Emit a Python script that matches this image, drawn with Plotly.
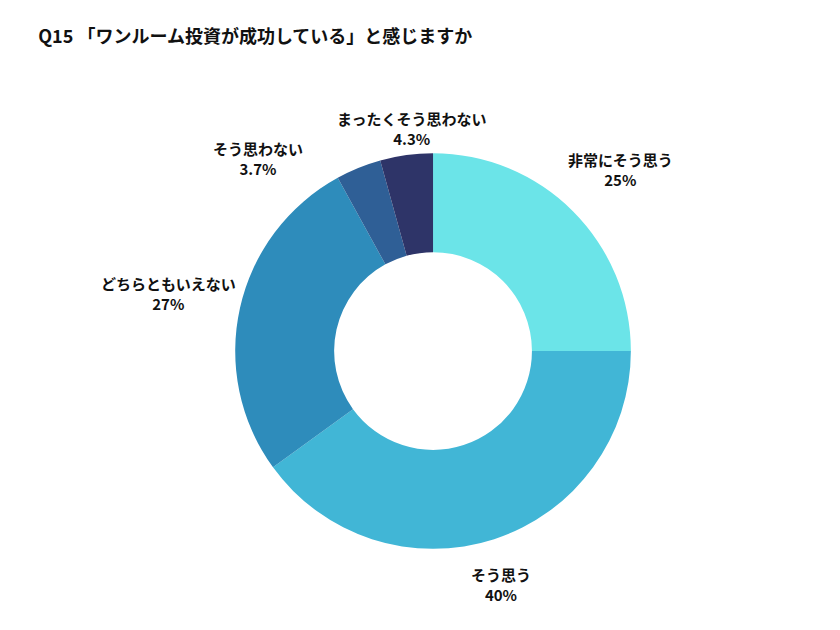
import plotly.graph_objects as go

labels = ["非常にそう思う", "そう思う", "どちらともいえない", "そう思わない", "まったくそう思わない"]
values = [25, 40, 27, 3.7, 4.3]
pct_text = ["25%", "40%", "27%", "3.7%", "4.3%"]
colors = ["#6BE4E8", "#41B6D6", "#2E8CBB", "#2F5F96", "#2E3468"]
# label centres in pixels (layout only)
label_pos = [(612, 162), (493, 576), (160, 286), (250, 150), (403, 121)]

font = "Noto Sans CJK JP"

fig = go.Figure(go.Pie(
    labels=labels, values=values, hole=0.5, sort=False, direction="clockwise",
    rotation=0, marker=dict(colors=colors), textinfo="none",
    hoverinfo="label+percent",
    domain=dict(x=[0.2705, 0.7415], y=[0.141, 0.770]),
    showlegend=False,
))

for l, p, (px_, py_) in zip(labels, pct_text, label_pos):
    fig.add_annotation(
        text=f"<b>{l}<br>{p}</b>", x=px_ / 840, y=1 - py_ / 630,
        xref="paper", yref="paper", showarrow=False,
        xanchor="center", yanchor="middle", align="center",
        font=dict(family=font, size=15, color="#111111"),
    )

fig.update_layout(
    width=840, height=630,
    margin=dict(l=0, r=0, t=0, b=0),
    paper_bgcolor="white",
    title=dict(text="<b>Q15 「ワンルーム投資が成功している」と感じますか</b>",
               x=0.036, y=0.955, xanchor="left", yanchor="middle",
               font=dict(family=font, size=18, color="#111111")),
)

fig.write_html("out.html")
